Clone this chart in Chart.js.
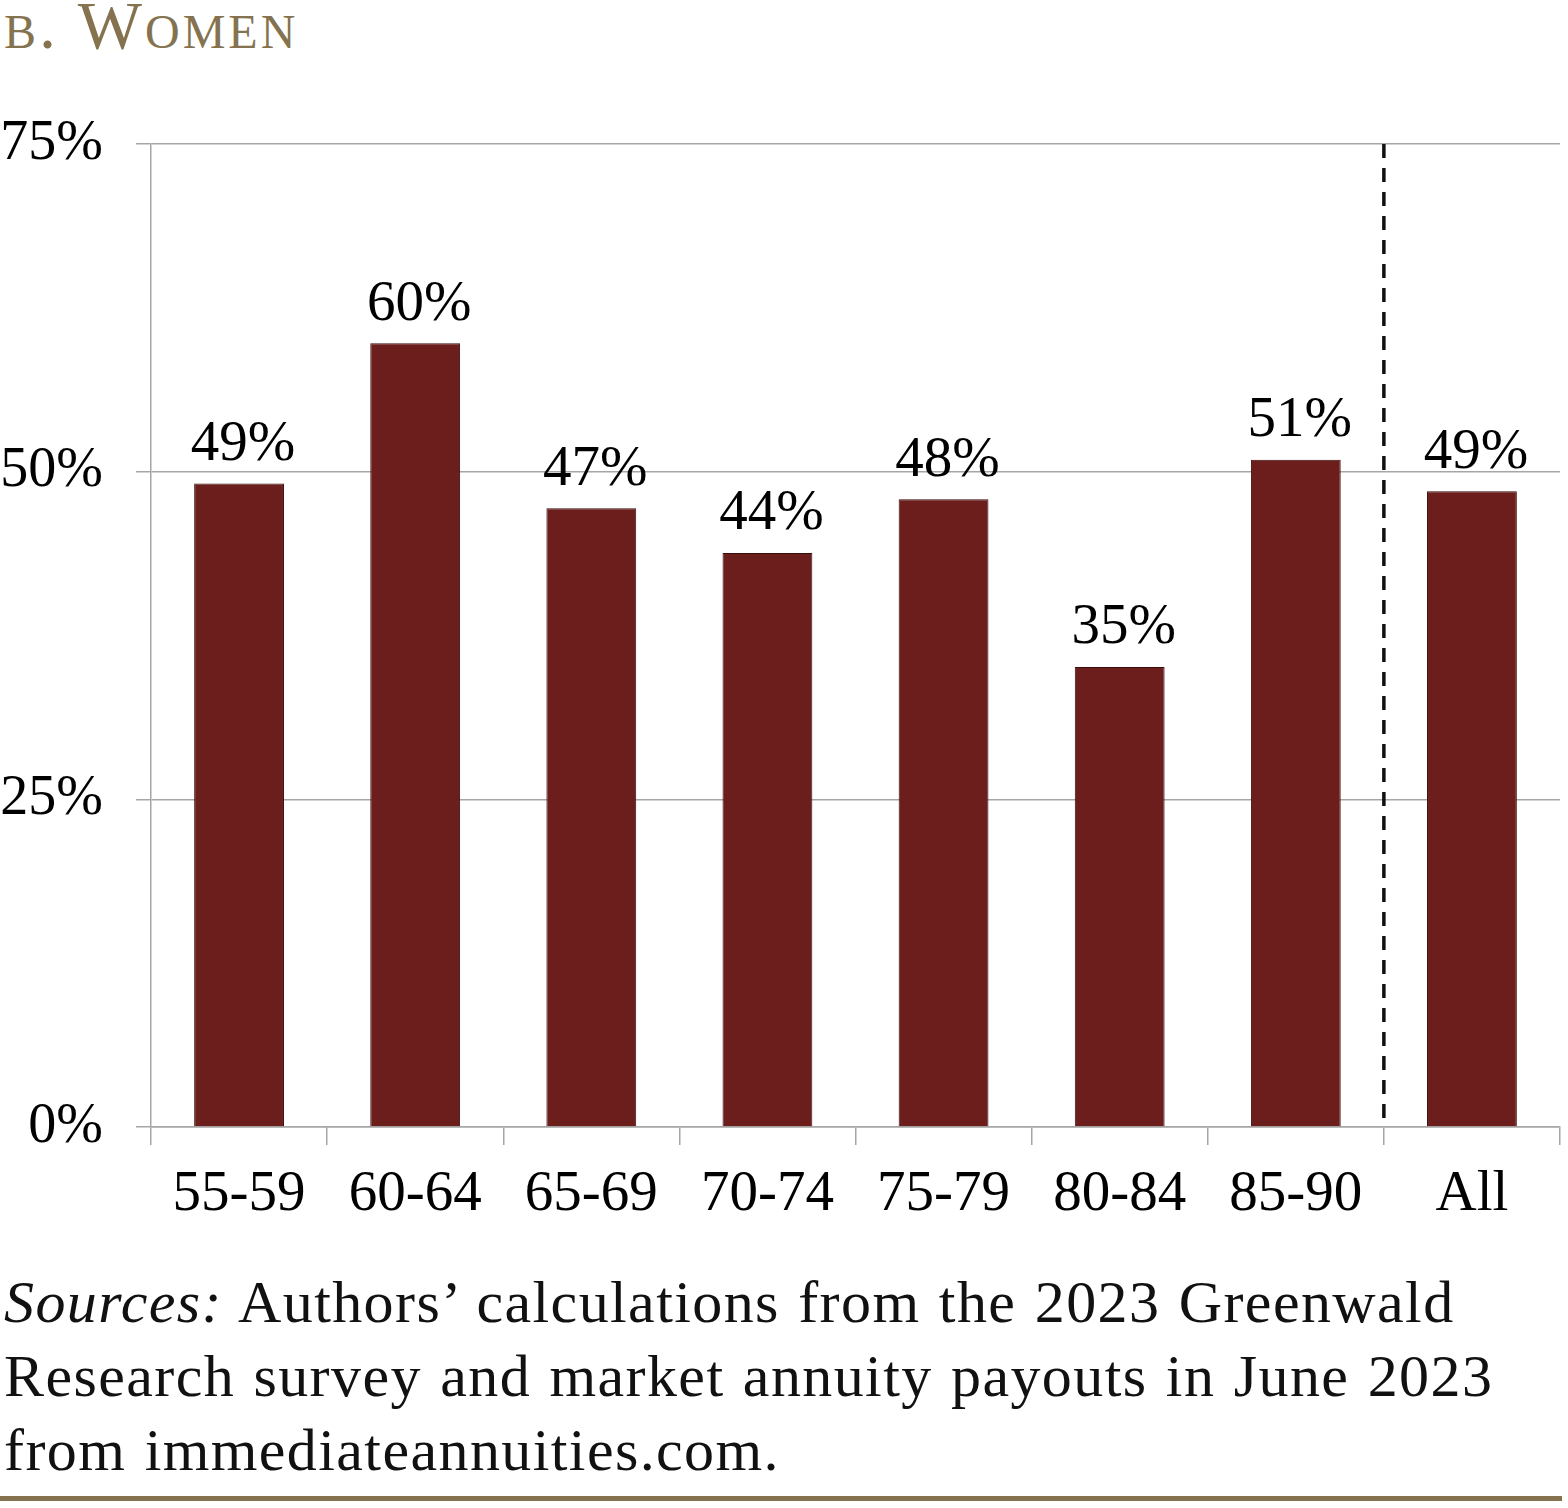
<!DOCTYPE html>
<html>
<head>
<meta charset="utf-8">
<script src="https://cdn.jsdelivr.net/npm/chart.js@4.4.0/dist/chart.umd.min.js"></script>
<style>
  body { margin: 0; background: #fff; width: 1568px; height: 1508px; position: relative; overflow: hidden; }
  #title { position: absolute; left: 4px; top: -14px; font-family: "Liberation Serif", serif; font-variant: small-caps; font-size: 68px; color: #857350; letter-spacing: 3px; }
  #wrap { position: absolute; left: 0; top: 0; }
  #source { position: absolute; left: 4px; top: 1265px; font-family: "Liberation Serif", serif; font-size: 60px; line-height: 74px; color: #111; letter-spacing: 1.4px; word-spacing: 2px; white-space: nowrap; }
  #rule { position: absolute; left: 0; top: 1496px; width: 1562px; height: 5px; background: #857350; }
</style>
</head>
<body>
<div id="title">b. Women</div>
<div id="wrap"><canvas id="myChart" width="1568" height="1260"></canvas></div>
<div id="source"><i>Sources:</i> Authors’ calculations from the 2023 Greenwald<br>Research survey and market annuity payouts in June 2023<br>from immediateannuities.com.</div>
<div id="rule"></div>
<script>
const ageGroups = ["55-59", "60-64", "65-69", "70-74", "75-79", "80-84", "85-90", "All"];
const shareValues = [49.1, 59.8, 47.2, 43.8, 47.9, 35.1, 50.9, 48.5];
const yTicks = [0, 25, 50, 75];

const barColor = "#6b1e1c";
const gridColor = "#a6a6a6";
const serif = "'Liberation Serif', 'Times New Roman', serif";

// labels on top of bars
const barLabels = {
  id: "barLabels",
  afterDatasetsDraw(chart) {
    const ctx = chart.ctx;
    const meta = chart.getDatasetMeta(0);
    ctx.save();
    ctx.font = "57px " + serif;
    ctx.fillStyle = "#000";
    ctx.textAlign = "center";
    ctx.textBaseline = "bottom";
    meta.data.forEach((bar, i) => {
      ctx.fillText(Math.round(shareValues[i]) + "%", bar.x + 4, bar.y - 10);
    });
    ctx.restore();
  },
};

// dashed separator before "All"
const separator = {
  id: "separator",
  afterDatasetsDraw(chart) {
    const x = chart.scales.x;
    const area = chart.chartArea;
    const px = (x.getPixelForValue(6) + x.getPixelForValue(7)) / 2;
    const ctx = chart.ctx;
    ctx.save();
    ctx.strokeStyle = "#111";
    ctx.lineWidth = 3.5;
    ctx.setLineDash([14, 10]);
    ctx.beginPath();
    ctx.moveTo(px, area.top);
    ctx.lineTo(px, area.bottom);
    ctx.stroke();
    ctx.restore();
  },
};

const config = {
  type: "bar",
  data: {
    labels: ageGroups,
    datasets: [
      {
        data: shareValues,
        backgroundColor: barColor,
        borderColor: "#3a0e0d",
        borderWidth: 1,
        categoryPercentage: 1,
        barPercentage: 0.51,
      },
    ],
  },
  options: {
    responsive: false,
    animation: false,
    devicePixelRatio: 1,
    layout: { padding: { left: 0, right: 8, top: 144, bottom: 0 } },
    plugins: {
      legend: { display: false },
      tooltip: { enabled: false },
    },
    scales: {
      x: {
        afterFit: (scale) => { scale.height = 1260 - 1127; },
        grid: {
          offset: true,
          drawOnChartArea: false,
          tickLength: 18,
          color: gridColor,
          lineWidth: 1.5,
        },
        border: { color: gridColor, width: 1.5 },
        ticks: {
          font: { family: serif, size: 57 },
          color: "#000",
          padding: 16,
        },
      },
      y: {
        min: 0,
        max: 75,
        afterFit: (scale) => { scale.width = 151; },
        afterBuildTicks: (scale) => { scale.ticks = yTicks.map((v) => ({ value: v })); },
        grid: { color: gridColor, lineWidth: 1.5, tickLength: 15 },
        border: { color: gridColor, width: 1.5 },
        ticks: {
          font: { family: serif, size: 56 },
          color: "#000",
          padding: 33,
          callback: (v) => v + "%",
        },
      },
    },
  },
  plugins: [barLabels, separator],
};

new Chart(document.getElementById("myChart"), config);
</script>
</body>
</html>
